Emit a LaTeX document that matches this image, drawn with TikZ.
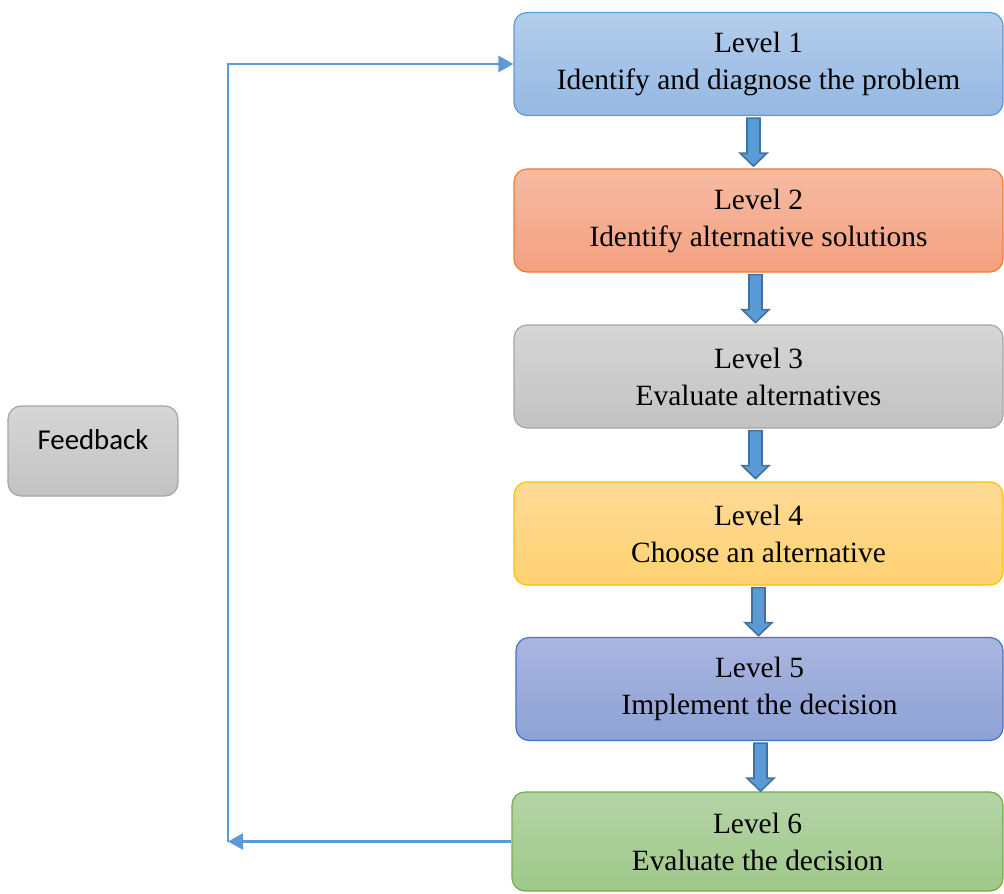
\documentclass[tikz,border=0pt]{standalone}
\usepackage{fontspec}
\setmainfont{Liberation Serif}
\newfontfamily\fbfont{Carlito}
\usetikzlibrary{arrows.meta,calc}

\definecolor{lineblue}{HTML}{5B9BD5}
\definecolor{arrowedge}{HTML}{41719C}
\definecolor{blueA}{HTML}{B4CDEB}   \definecolor{blueB}{HTML}{94B8E2}   \definecolor{blueE}{HTML}{5B9BD5}
\definecolor{orangeA}{HTML}{F6BBA3} \definecolor{orangeB}{HTML}{F4A07F} \definecolor{orangeE}{HTML}{ED7D31}
\definecolor{grayA}{HTML}{D6D6D6}   \definecolor{grayB}{HTML}{C2C2C2}   \definecolor{grayE}{HTML}{A5A5A5}
\definecolor{goldA}{HTML}{FFDA96}   \definecolor{goldB}{HTML}{FFD271}   \definecolor{goldE}{HTML}{FFC000}
\definecolor{indigoA}{HTML}{A9B6DF} \definecolor{indigoB}{HTML}{8EA2D6} \definecolor{indigoE}{HTML}{4472C4}
\definecolor{greenA}{HTML}{B5D4A6}  \definecolor{greenB}{HTML}{9FC88A}  \definecolor{greenE}{HTML}{70AD47}

\tikzset{
  levelbox/.style={rounded corners=6.5pt, line width=0.6pt, minimum width=244.5pt,
    minimum height=51.5pt, inner sep=0pt, align=center,
    font=\fontsize{14.7}{18.5}\selectfont},
  blockarrow/.style={draw=arrowedge, fill=lineblue, line width=0.8pt, line join=miter},
  feedline/.style={draw=lineblue, line width=1.3pt, -{Triangle[length=7.5pt,width=8pt]}}
}

% block arrow pointing down, #1 = top of the shaft
\newcommand{\downblock}[1]{%
  \draw[blockarrow] (#1) ++(-3.25pt,0pt) -- ++(0pt,-17.5pt) -- ++(-3.5pt,0pt)
    -- ++(6.75pt,-6.5pt) -- ++(6.75pt,6.5pt) -- ++(-3.5pt,0pt) -- ++(0pt,17.5pt) -- cycle;}

\begin{document}
\begin{tikzpicture}[x=0.5pt, y=-0.5pt]

    \useasboundingbox (0,0) rectangle (1004,893);

    % Levels
    \node[levelbox, draw=blueE, top color=blueA, bottom color=blueB] (l1) at (758.5,64)
      {Level 1\\Identify and diagnose the problem};
    \node[levelbox, draw=orangeE, top color=orangeA, bottom color=orangeB] (l2) at (758.5,220.5)
      {Level 2\\Identify alternative solutions};
    \node[levelbox, draw=grayE, top color=grayA, bottom color=grayB] (l3) at (758.5,376.5)
      {Level 3\\Evaluate alternatives};
    \node[levelbox, draw=goldE, top color=goldA, bottom color=goldB] (l4) at (758.5,533.5)
      {Level 4\\Choose an alternative};
    \node[levelbox, draw=indigoE, top color=indigoA, bottom color=indigoB, minimum width=243.5pt] (l5) at (759.5,689)
      {Level 5\\Implement the decision};
    \node[levelbox, draw=greenE, top color=greenA, bottom color=greenB, minimum width=245.5pt, minimum height=49.5pt] (l6) at (757.5,841.5)
      {Level 6\\Evaluate the decision};

    % Feedback box
    \node[rounded corners=6.5pt, line width=0.6pt, draw=grayE, top color=grayA, bottom color=grayB,
      minimum width=85pt, minimum height=45pt, text height=10pt, text depth=12pt,
      font=\fbfont\fontsize{14.4}{17}\selectfont] (fb) at (93,451) {Feedback};

    % Block arrows between the levels
    \foreach \a/\b/\dx in {l1/l2/-2.5, l2/l3/-1.5, l3/l4/-1.5, l4/l5/0, l5/l6/0.5}
      \downblock{$(\a.south)+(\dx pt,-1pt)$};

    % Feedback loop
    \coordinate (corner) at (228,841.5);
    \draw[feedline] (l6.west) -- (corner);
    \draw[feedline] (corner) |- (l1.west);

\end{tikzpicture}
\end{document}
